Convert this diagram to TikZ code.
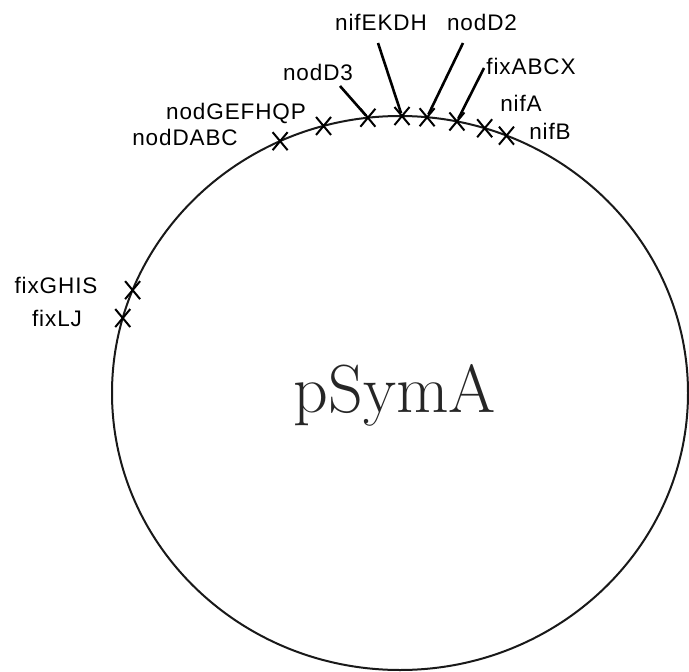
\documentclass[tikz,border=0pt]{standalone}
\usepackage{fontspec}
\newfontfamily\labfont[LetterSpace=4]{Liberation Sans}
\usetikzlibrary{shapes.misc}
\tikzset{
  plasmid/.style={draw=black!90, line width=2pt},
  xmark/.style={cross out, draw=black, line width=2pt, minimum width=13pt, minimum height=16pt, inner sep=0pt},
  pointer/.style={draw=black, line width=2.6pt, shorten >=3pt},
  genelabel/.style={font=\labfont\fontsize{22.5}{24}\selectfont, inner sep=0pt, text=black},
  titlelabel/.style={font=\fontsize{68}{70}\selectfont, inner sep=0pt, text=black!85}
}
\begin{document}
\begin{tikzpicture}[x=1pt,y=-1pt]
\useasboundingbox (0,0) rectangle (689,672);
\coordinate (c) at (400,393);
\draw[plasmid] (c) ellipse [x radius=288, y radius=277];
% markers
\node[xmark] (mDABC) at ({400+288*cos(114.6)},{393-277*sin(114.6)}) {};
\node[xmark] (mGEF)  at ({400+288*cos(105.4)},{393-277*sin(105.4)}) {};
\node[xmark] (mD3)   at ({400+288*cos(96.4)},{393-277*sin(96.4)}) {};
\node[xmark] (mEKDH) at ({400+288*cos(89.6)},{393-277*sin(89.6)}) {};
\node[xmark] (mD2)   at ({400+288*cos(84.6)},{393-277*sin(84.6)}) {};
\node[xmark] (mABCX) at ({400+288*cos(78.6)},{393-277*sin(78.6)}) {};
\node[xmark] (mA)    at ({400+288*cos(72.9)},{393-277*sin(72.9)}) {};
\node[xmark] (mB)    at ({400+288*cos(68.3)},{393-277*sin(68.3)}) {};
\node[xmark] (mGHIS) at ({400+288*cos(158.2)},{393-277*sin(158.2)}) {};
\node[xmark] (mLJ)   at ({400+288*cos(164.3)},{393-277*sin(164.3)}) {};
% labels
\node[genelabel] (lEKDH) at (381,22) {nifEKDH};
\node[genelabel] (lD2)   at (482,22) {nodD2};
\node[genelabel] (lD3)   at (318,72) {nodD3};
\node[genelabel] (lABCX) at (531,66) {fixABCX};
\node[genelabel] (lA)    at (521,103) {nifA};
\node[genelabel] (lB)    at (550,131) {nifB};
\node[genelabel] (lGEF)  at (236,113) {nodGEFHQP};
\node[genelabel] (lDABC) at (185,137) {nodDABC};
\node[genelabel] (lGHIS) at (56,285) {fixGHIS};
\node[genelabel] (lLJ)   at (57,318) {fixLJ};
% pointer lines
\coordinate (pD3) at (340,86);
\coordinate (pEKDH) at (378,43);
\coordinate (pD2) at (463,43);
\coordinate (pABCX) at (484,68);
\draw[pointer] (pD3) -- (mD3.center);
\draw[pointer] (pEKDH) -- (mEKDH.center);
\draw[pointer] (pD2) -- (mD2.center);
\draw[pointer] (pABCX) -- (mABCX.center);
% title
\node[titlelabel, anchor=base] (title) at (395,412) {pSymA};
\end{tikzpicture}
\end{document}
